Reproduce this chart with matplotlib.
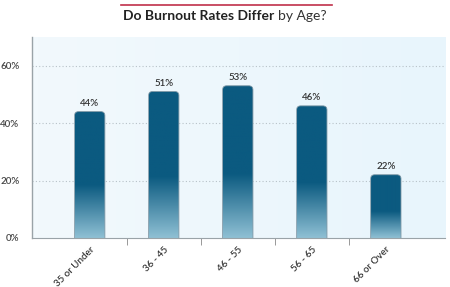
import numpy as np
import matplotlib
matplotlib.use('Agg')
from matplotlib import pyplot as plt
from matplotlib.colors import LinearSegmentedColormap
from matplotlib.patches import FancyBboxPatch
from matplotlib.lines import Line2D


categories = ['35 or Under', '36 - 45', '46 - 55', '56 - 65', '66 or Over']
rates = [44, 51, 53, 46, 22]
yticks = [0, 20, 40, 60]

dark = '#0b5a80'
light = '#8fc0d4'
bar_cmap = LinearSegmentedColormap.from_list(
    'bar', [(0, light), (0.42, dark), (1, dark)])


def main():
    plt.rcParams['font.family'] = ['Lato', 'DejaVu Sans']
    fig = plt.figure(figsize=(4.5, 2.87), dpi=100)
    ax = fig.add_axes([0.071, 0.171, 0.918, 0.70])
    ax.set_facecolor('#eef7fc')

    x = np.arange(len(categories))
    ax.set_xlim(-0.78, 4.8)
    ax.set_ylim(0, 70)

    # background gradient, a touch lighter on the left
    bg = LinearSegmentedColormap.from_list('bg', ['#f2f9fd', '#e8f5fc'])
    ax.imshow(np.linspace(0, 1, 64).reshape(1, -1), cmap=bg, aspect='auto',
              extent=[-0.78, 4.8, 0, 70], zorder=0)

    for g in yticks[1:]:
        ax.axhline(g, color='#b8c2c8', lw=0.8, ls=(0, (1, 2)), zorder=1)

    bars = ax.bar(x, rates, width=0.41, color='none', edgecolor='none', zorder=2)
    grad = np.linspace(0, 1, 256).reshape(-1, 1)
    for rect, val in zip(bars, rates):
        x0 = rect.get_x()
        w = rect.get_width()
        h = rect.get_height()
        r = 0.055
        shape = FancyBboxPatch((x0 + r, -5), w - 2 * r, h + 5 - 1.4,
                               boxstyle='round,pad=%f,rounding_size=%f' % (r, r),
                               mutation_aspect=25.7,
                               facecolor='none', edgecolor='#7f98a6',
                               lw=0.6, zorder=3)
        ax.add_patch(shape)
        im = ax.imshow(grad, cmap=bar_cmap, origin='lower', aspect='auto',
                       extent=[x0, x0 + w, 0, h], zorder=2.5)
        im.set_clip_path(shape)
        ax.text(rect.get_x() + w / 2, h + 1.2, '%d%%' % val, ha='center',
                va='bottom', fontsize=7, fontweight='semibold',
                color='#333333')

    ax.set_yticks(yticks)
    ax.set_yticklabels(['%d%%' % t for t in yticks], fontsize=7,
                       fontweight='semibold', color='#444444')
    ax.tick_params(axis='y', length=0, pad=9)

    ax.set_xticks(x)
    ax.set_xticklabels(categories, rotation=45, ha='right',
                       rotation_mode='anchor', fontsize=7,
                       fontweight='semibold', color='#333333')
    ax.tick_params(axis='x', length=0, pad=5)
    ax.set_xticks(x[:-1] + 0.5, minor=True)
    ax.tick_params(axis='x', which='minor', length=5, color='#888888',
                   direction='out')

    for s in ['top', 'right']:
        ax.spines[s].set_visible(False)
    ax.spines['left'].set_color('#9aa3a8')
    ax.spines['bottom'].set_color('#9aa3a8')
    ax.spines['left'].set_linewidth(1.0)
    ax.spines['bottom'].set_linewidth(0.8)

    # title: bold part + regular part, with red rule above
    t1 = fig.text(0.5, 0.944, 'Do Burnout Rates Differ ', ha='right',
                  va='center', fontsize=10, fontweight='bold',
                  color='#222222')
    t2 = fig.text(0.5, 0.944, 'by Age?', ha='left', va='center',
                  fontsize=10, color='#333333')
    fig.canvas.draw()
    r = fig.canvas.get_renderer()
    w1 = t1.get_window_extent(r).width
    w2 = t2.get_window_extent(r).width
    shift = (w1 - w2) / 2 / fig.bbox.width
    t1.set_x(0.5 + shift)
    t2.set_x(0.5 + shift)
    fig.add_artist(Line2D([0.269, 0.738], [0.981, 0.981], color='#c0304a',
                          lw=1.2, transform=fig.transFigure))

    fig.savefig('out.png', dpi=100, facecolor='white')


if __name__ == '__main__':
    main()
